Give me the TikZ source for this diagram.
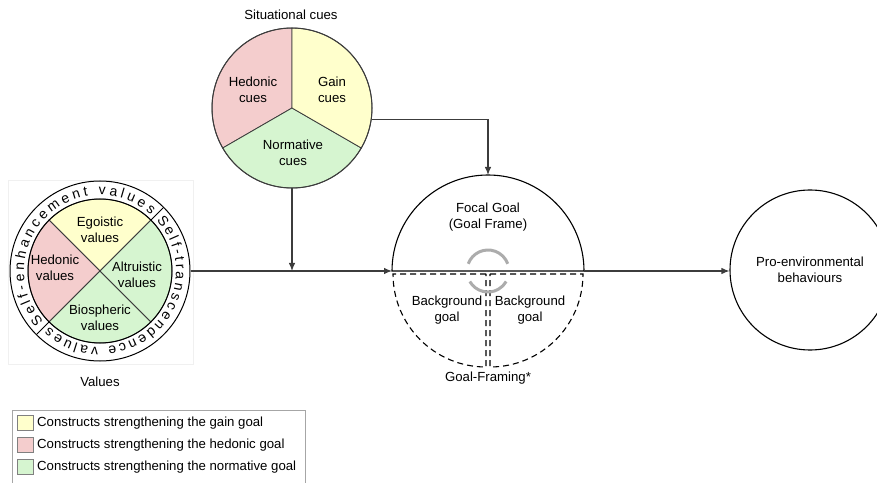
\documentclass[tikz,border=0pt]{standalone}
\usepackage{fontspec}
\setmainfont{Liberation Sans}
\usepackage{tikz}
\usetikzlibrary{arrows.meta,calc,decorations.text}

\definecolor{gaincol}{RGB}{255,255,204}
\definecolor{hedcol}{RGB}{244,205,205}
\definecolor{normcol}{RGB}{214,245,208}
\definecolor{edgecol}{RGB}{60,60,60}

\tikzset{
  lbl/.style={align=center, inner sep=0pt, font=\fontsize{13.2}{16}\selectfont},
  wedge/.style={draw=edgecol, line width=0.8pt},
  rim/.style={draw=black, line width=1.1pt},
  conn/.style={draw=edgecol, line width=1.1pt, -{Latex[length=8pt,width=6.5pt]}},
  swatch/.style={draw=gray, line width=0.6pt, minimum width=16pt, minimum height=15pt, inner sep=0pt}
}

\begin{document}
\begin{tikzpicture}[x=1pt, y=1pt]
  \useasboundingbox (0,0) rectangle (877,482);

  % situational cues
  \path[wedge, fill=hedcol] (292,374) -- ++(90:80) arc[start angle=90, end angle=210, radius=80] -- cycle;
  \path[wedge, fill=normcol] (292,374) -- ++(210:80) arc[start angle=210, end angle=330, radius=80] -- cycle;
  \path[wedge, fill=gaincol] (292,374) -- ++(330:80) arc[start angle=330, end angle=450, radius=80] -- cycle;
  \node[circle, draw=edgecol, line width=1pt, minimum size=160pt, inner sep=0pt] (cues) at (292,374) {};
  \node[lbl] (sitlbl) at (291,467) {Situational cues};
  \node[lbl] (hedcues) at (253,392) {Hedonic\\cues};
  \node[lbl] (gaincues) at (332,392) {Gain\\cues};
  \node[lbl] (normcues) at (293,329) {Normative\\cues};

  % values
  \path[draw=gray!12, line width=0.8pt] (8,118) rectangle (193,302);
  \node[circle, fill=white, draw=black, line width=1pt, minimum size=180pt, inner sep=0pt] (values) at (100,211) {};
  \path[wedge, fill=gaincol] (100,211) -- ++(45:72) arc[start angle=45, end angle=135, radius=72] -- cycle;
  \path[wedge, fill=hedcol] (100,211) -- ++(135:72) arc[start angle=135, end angle=225, radius=72] -- cycle;
  \path[wedge, fill=normcol] (100,211) -- ++(225:72) arc[start angle=225, end angle=315, radius=72] -- cycle;
  \path[wedge, fill=normcol] (100,211) -- ++(315:72) arc[start angle=315, end angle=405, radius=72] -- cycle;
  \path[draw=black, line width=1pt] (100,211) circle[radius=72];
  \path[draw=black, line width=1pt] (100,211) ++(45:72) -- ++(45:18);
  \path[draw=black, line width=1pt] (100,211) ++(225:72) -- ++(225:18);
  \path[decorate, decoration={text along path, text align={fit to path},
    text={|\fontsize{14}{14}\selectfont|Self-enhancement values}}]
    (100,211) ++(222:76) arc[start angle=222, end angle=48, radius=76];
  \path[decorate, decoration={text along path, text align={fit to path},
    text={|\fontsize{14}{14}\selectfont|Self-transcendence values}}]
    (100,211) ++(42:76) arc[start angle=42, end angle=-132, radius=76];
  \node[lbl] (egolbl) at (100,252) {Egoistic\\values};
  \node[lbl] (hedlbl) at (55,214) {Hedonic\\values};
  \node[lbl] (altlbl) at (137,207) {Altruistic\\values};
  \node[lbl] (biolbl) at (100,164) {Biospheric\\values};
  \node[lbl] (vallbl) at (100,100) {Values};

  % goal frame
  \coordinate (focal) at (488,211);
  \coordinate (ftop) at (488,307);
  \coordinate (fleft) at (392,211);
  \coordinate (fright) at (584,211);
  \path[rim] (fleft) arc[start angle=180, end angle=0, radius=96] -- cycle;
  \path[draw=black, line width=1.1pt, dash pattern=on 6pt off 4pt]
    ($(focal)+(-2,-3)$) -- ++(-93,0) arc[start angle=180, end angle=270, radius=93] -- cycle;
  \path[draw=black, line width=1.1pt, dash pattern=on 6pt off 4pt]
    ($(focal)+(2,-3)$) -- ++(93,0) arc[start angle=0, end angle=-90, radius=93] -- cycle;
  \path[draw=gray!65, line width=3pt] (focal) ++(160:21) arc[start angle=160, end angle=20, radius=21];
  \path[draw=gray!65, line width=3pt] (focal) ++(210:21) arc[start angle=210, end angle=330, radius=21];
  \node[lbl] (focallbl) at (488,265) {Focal Goal\\(Goal Frame)};
  \node[lbl] (bgleft) at (447,172) {Background\\goal};
  \node[lbl] (bgright) at (530,172) {Background\\goal};
  \node[lbl] (framelbl) at (488,104) {Goal-Framing*};

  % behaviour
  \node[circle, rim, minimum size=160pt, inner sep=0pt, lbl] (behav) at (810,212)
    {Pro-environmental\\behaviours};

  % connectors
  \path[conn] (cues.-8) -- (cues.-8 -| ftop) -- (ftop);
  \path[conn] (values.east) -- (fleft);
  \path[conn] (cues.south) -- (cues.south |- fleft);
  \path[conn] (fright) -- (fright -| behav.west);

  % legend
  \path[draw=gray!70, line width=0.8pt] (12,-5) rectangle (305,72);
  \node[swatch, fill=gaincol] (swgain) at (25,59) {};
  \node[swatch, fill=hedcol] (swhed) at (25,37) {};
  \node[swatch, fill=normcol] (swnorm) at (25,15) {};
  \node[lbl, anchor=west] (leggain) at (37,59) {Constructs strengthening the gain goal};
  \node[lbl, anchor=west] (leghed) at (37,37) {Constructs strengthening the hedonic goal};
  \node[lbl, anchor=west] (legnorm) at (37,15) {Constructs strengthening the normative goal};

\end{tikzpicture}
\end{document}
